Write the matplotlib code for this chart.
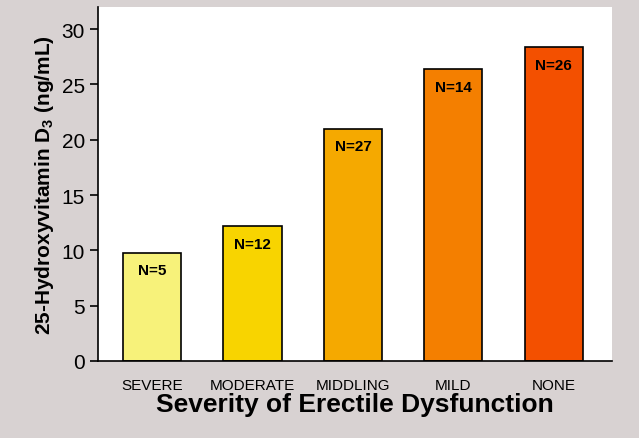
import matplotlib.pyplot as plt

plt.rcParams["font.family"] = "Liberation Sans"
plt.rcParams["mathtext.fontset"] = "custom"
plt.rcParams["mathtext.bf"] = "Liberation Sans:bold"
plt.rcParams["mathtext.rm"] = "Liberation Sans"

categories = ["SEVERE", "MODERATE", "MIDDLING", "MILD", "NONE"]
values = [9.8, 12.2, 21.0, 26.4, 28.4]
counts = ["N=5", "N=12", "N=27", "N=14", "N=26"]
colors = ["#f7f27a", "#f8d400", "#f5a900", "#f47f00", "#f35000"]

fig = plt.figure(figsize=(6.39, 4.39), dpi=100, facecolor="#d8d2d2")
ax = fig.add_axes([98/639, 1-362/439, 514/639, 354/439])
x = range(len(categories))
ax.bar(x, values, width=0.58, color=colors, edgecolor="black", linewidth=1.2)
for i, (v, n) in enumerate(zip(values, counts)):
    ax.text(i, v - 1.6, n, ha="center", va="center", fontsize=11, fontweight="bold")

ax.set_xlim(-0.54, 4.58)
ax.set_ylim(0, 32)
ax.set_yticks(range(0, 31, 5))
ax.set_xticks(list(x))
ax.set_xticklabels(categories, fontsize=11)
ax.tick_params(axis="y", labelsize=15, length=6, width=1.2)
ax.tick_params(axis="x", length=0, pad=12)
for s in ["top", "right"]:
    ax.spines[s].set_visible(False)
for s in ["left", "bottom"]:
    ax.spines[s].set_linewidth(1.2)
ax.set_xlabel("Severity of Erectile Dysfunction", fontsize=19, fontweight="bold", labelpad=0)
ax.set_ylabel(r"25-Hydroxyvitamin D$_\mathbf{3}$ (ng/mL)", fontsize=15, fontweight="bold")

fig.savefig("out.png", facecolor=fig.get_facecolor())
